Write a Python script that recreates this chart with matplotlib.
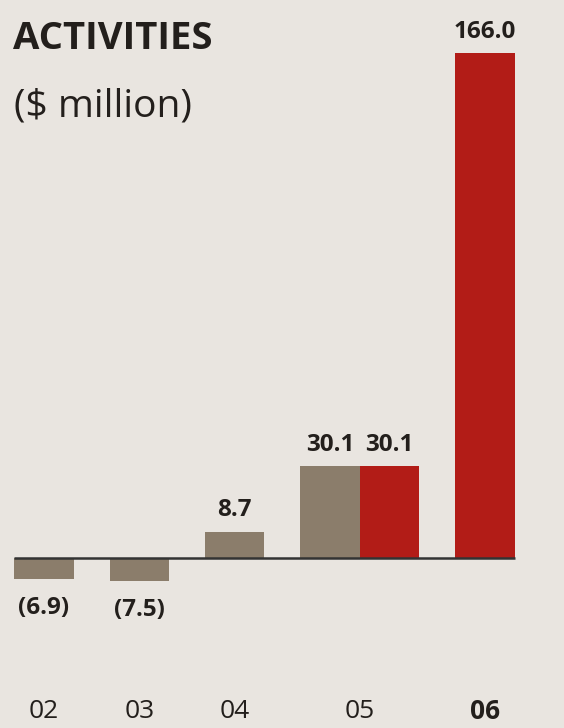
import matplotlib
matplotlib.use("Agg")
import matplotlib.pyplot as plt

# Activities, $ million
years = ["02", "03", "04", "05", "06"]
grey_values = [-6.9, -7.5, 8.7, 30.1]
red_values = [30.1, 166.0]
grey_labels = ["(6.9)", "(7.5)", "8.7", "30.1"]
red_labels = ["30.1", "166.0"]

BG = "#e9e5e0"
GREY = "#8b7d6b"
RED = "#b21c17"
INK = "#231f1c"
FONT = "Open Sans"

W = 0.625
grey_x = [0, 1, 2, 3]
red_x = [3 + W, 4 + W]
year_x = [0, 1, 2, 3 + W / 2, 4 + W]

fig = plt.figure(figsize=(5.64, 7.28), dpi=100, facecolor=BG)
ax = fig.add_axes([0, 0, 1, 1])
ax.set_facecolor(BG)

ax.bar(grey_x, grey_values, width=W, color=GREY, linewidth=0, zorder=2)
ax.bar(red_x, red_values, width=W, color=RED, linewidth=0, zorder=2)
ax.hlines(0, grey_x[0] - W / 2, red_x[-1] + W / 2, color="#333333", linewidth=1.8, zorder=3)

# pixel-based scale: 95.3 px per slot, 3.04 px per $ million
ax.set_xlim(-44 / 95.3, (564 - 44) / 95.3)
ax.set_ylim(-(728 - 558) / 3.04, 558 / 3.04)
ax.axis("off")

lab_kw = dict(fontsize=17.5, fontweight="bold", color=INK, family=FONT,
              ha="center", va="center")
for x, v, t in zip(grey_x, grey_values, grey_labels):
    if v < 0:
        ax.text(x, v - 9.5, t, **lab_kw)
    else:
        ax.text(x, v + 7, t, **lab_kw)
for x, v, t in zip(red_x, red_values, red_labels):
    ax.text(x, v + 7, t, **lab_kw)

for i, (x, y) in enumerate(zip(year_x, years)):
    last = i == len(years) - 1
    ax.text(x, -50.5, y, ha="center", va="center", fontsize=19,
            fontweight="bold" if last else "normal", color=INK, family=FONT)

fig.text(13 / 564, 1 - 39 / 728, "ACTIVITIES", fontsize=27.5, fontweight="bold",
         color=INK, family=FONT, ha="left", va="center")
fig.text(14 / 564, 1 - 106 / 728, "($ million)", fontsize=28, color=INK,
         family=FONT, ha="left", va="center")

fig.savefig("out.png", dpi=100, facecolor=BG)
